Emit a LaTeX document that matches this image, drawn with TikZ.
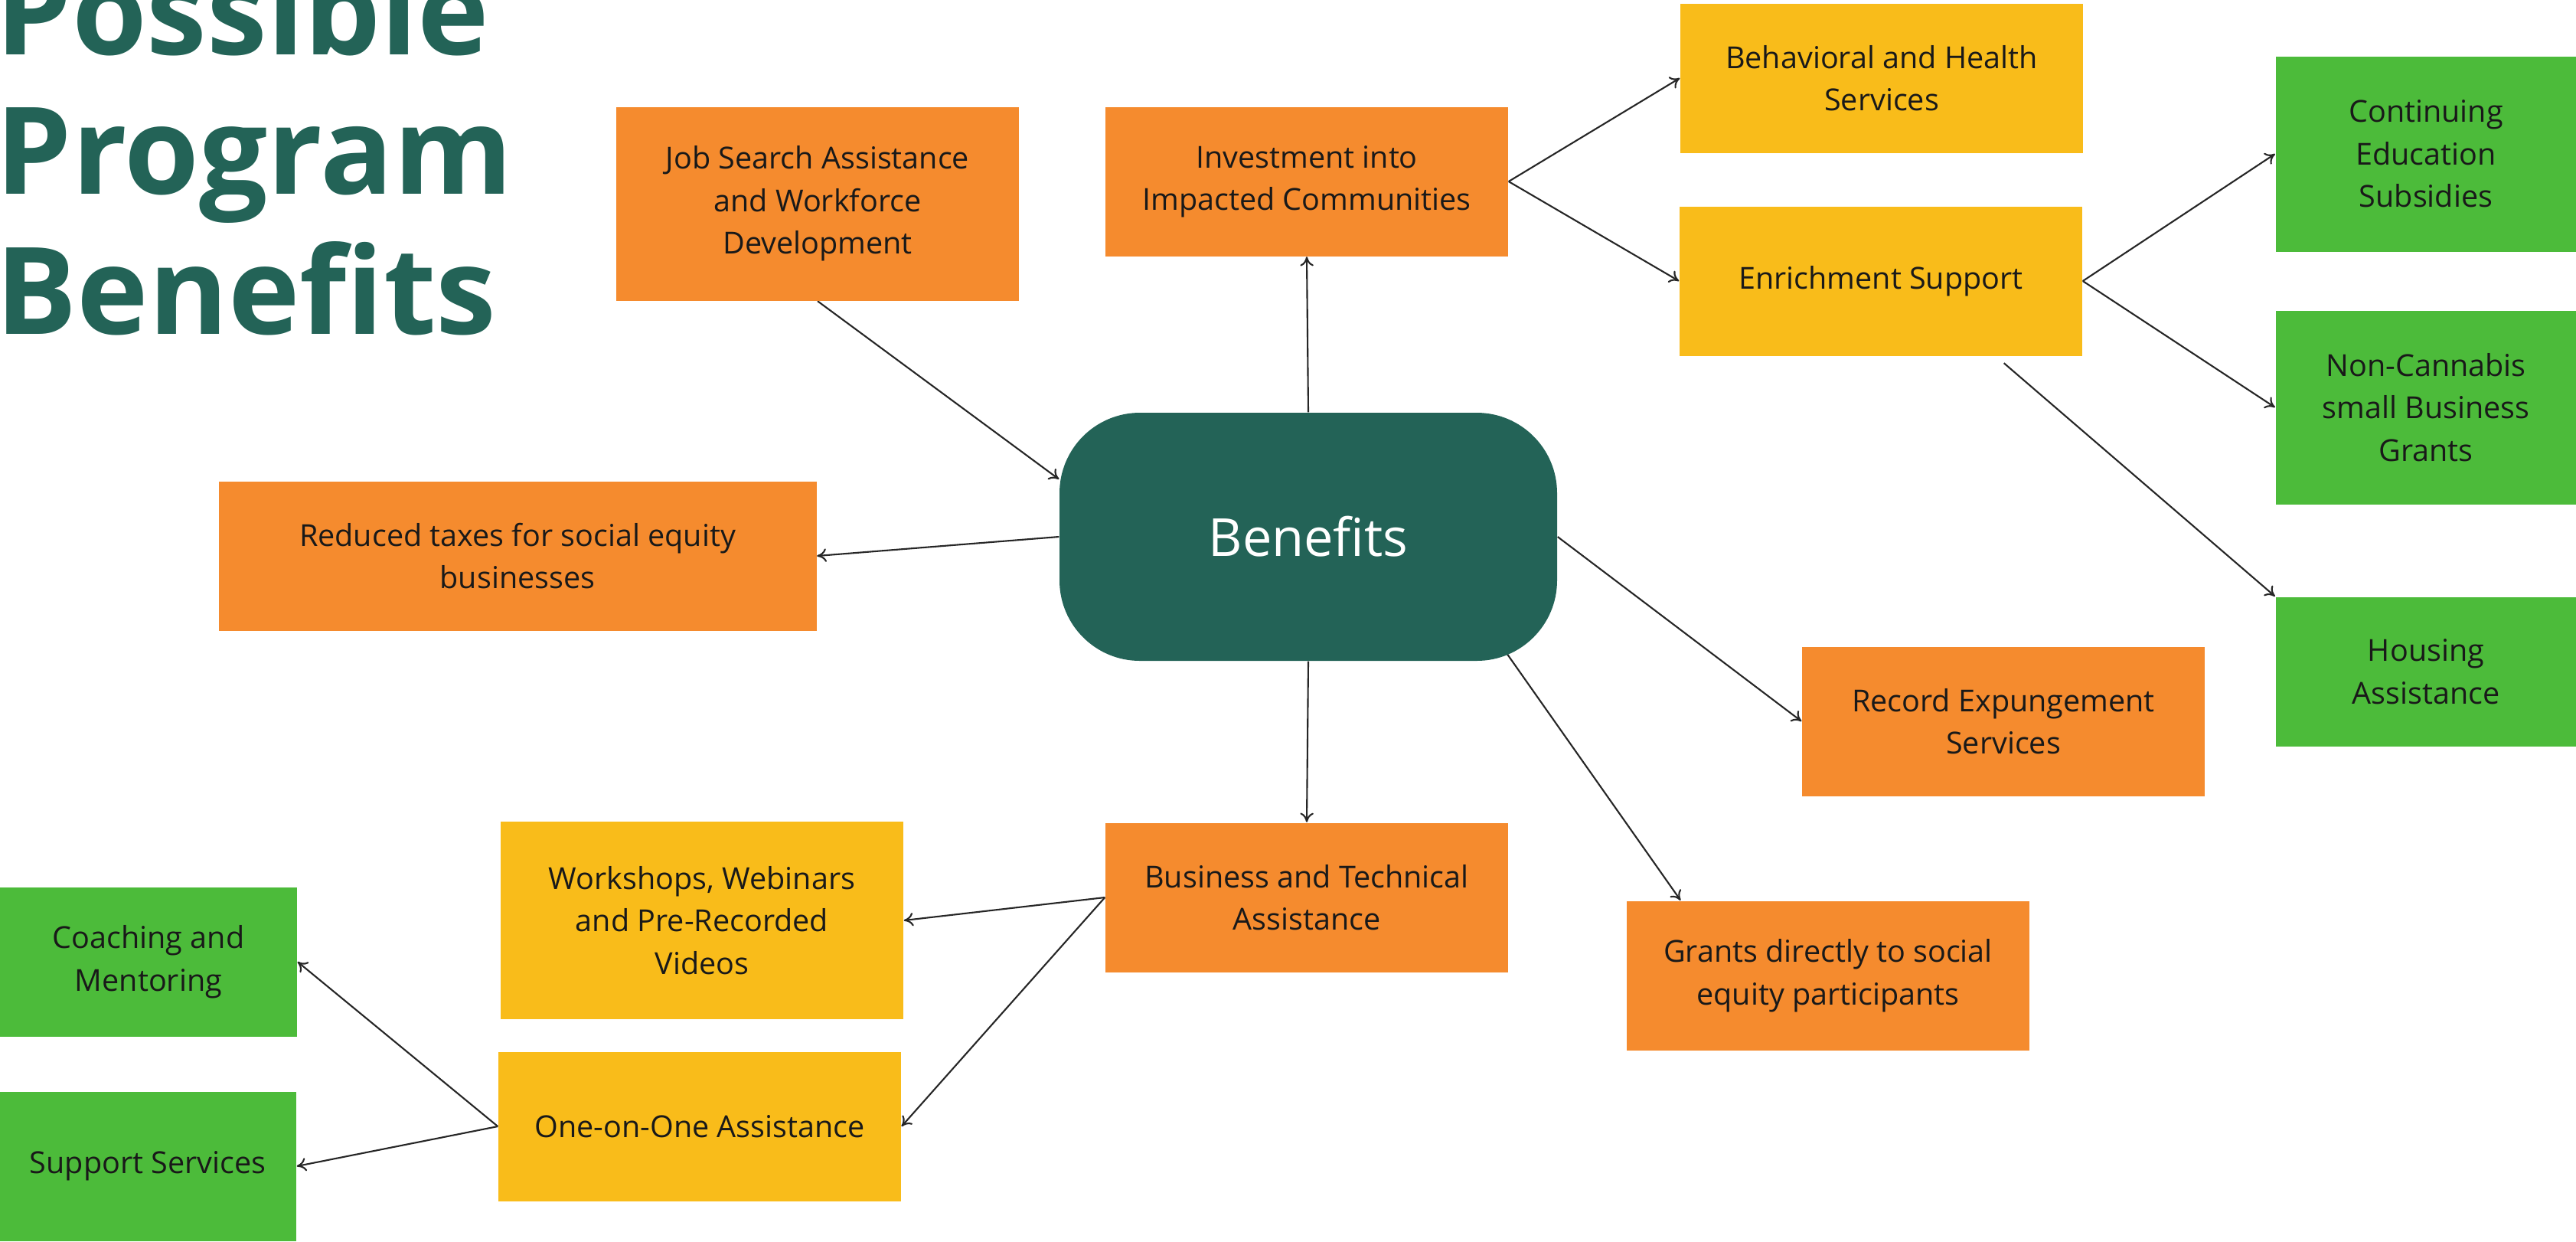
\documentclass[tikz,border=0pt]{standalone}
\usepackage{fontspec}
\setmainfont{Open Sans}
\usetikzlibrary{arrows.meta}
\usetikzlibrary{backgrounds}

\definecolor{teal}{RGB}{35,99,87}
\definecolor{orng}{RGB}{245,139,46}
\definecolor{yelo}{RGB}{249,188,26}
\definecolor{gren}{RGB}{76,187,58}

\begin{document}
\begin{tikzpicture}[>={To[length=3.5pt,width=5pt]},
    box/.style={rectangle, inner sep=0pt, minimum width=5.26cm, minimum height=1.95cm, align=center, text=black!90, font=\fontsize{11.25}{15.8}\selectfont},
    orbox/.style={box, fill=orng},
    yebox/.style={box, fill=yelo},
    grbox/.style={box, fill=gren, minimum width=3.93cm},
    core/.style={rectangle, rounded corners=1.05cm, fill=teal, text=white, minimum width=6.5cm, minimum height=3.24cm, font=\fontsize{19.5}{24}\selectfont},
    ttl/.style={anchor=base west, inner sep=0pt, text=teal, font=\fontsize{45}{52}\selectfont\bfseries},
    link/.style={->, line width=0.6pt, draw=black!85}]
    \useasboundingbox (0,0) rectangle (33.65,-16.21);
    \clip (0,0) rectangle (33.65,-16.21);
    % title
    \node[ttl] (ttl1) at (-0.06,-0.71) {Possible};
    \node[ttl] (ttl2) at (-0.06,-2.53) {Program};
    \node[ttl] (ttl3) at (-0.06,-4.36) {Benefits};
    % centre and first ring
    \node[core] (ben) at (17.09,-7.01) {Benefits};
    \node[orbox, minimum height=2.53cm] (job) at (10.68,-2.66) {Job Search Assistance\\and Workforce\\Development};
    \node[orbox] (invest) at (17.07,-2.37) {Investment into\\Impacted Communities};
    \node[orbox, minimum width=7.81cm] (taxes) at (6.76,-7.26) {Reduced taxes for social equity\\businesses};
    \node[orbox] (record) at (26.17,-9.42) {Record Expungement\\Services};
    \node[orbox] (business) at (17.07,-11.72) {Business and Technical\\Assistance};
    \node[orbox] (grants) at (23.88,-12.74) {Grants directly to social\\equity participants};
    % second ring
    \node[yebox] (behav) at (24.58,-1.02) {Behavioral and Health\\Services};
    \node[yebox] (enrich) at (24.57,-3.67) {Enrichment Support};
    \node[yebox, minimum height=2.58cm] (workshop) at (9.17,-12.02) {Workshops, Webinars\\and Pre-Recorded\\Videos};
    \node[yebox] (onetoone) at (9.14,-14.71) {One-on-One Assistance};
    % third ring
    \node[grbox, minimum height=2.55cm] (contin) at (31.69,-2.01) {Continuing\\Education\\Subsidies};
    \node[grbox, minimum height=2.53cm] (noncan) at (31.69,-5.32) {Non-Cannabis\\small Business\\Grants};
    \node[grbox] (housing) at (31.69,-8.77) {Housing\\Assistance};
    \node[grbox, minimum width=3.88cm] (coach) at (1.94,-12.56) {Coaching and\\Mentoring};
    \node[grbox, minimum width=3.88cm] (support) at (1.93,-15.23) {Support Services};
    \begin{scope}[on background layer]
    \draw[link] (job.south) -- (ben.167);
    \draw[link] (ben.west) -- (taxes.east);
    \draw[link] (ben.north) -- (invest.south);
    \draw[link] (invest.east) -- (behav.west); \draw[link] (invest.east) -- (enrich.west);
    \draw[link] (enrich.east) -- (contin.west); \draw[link] (enrich.east) -- (noncan.west);
    \draw[link] ([xshift=-1.03cm,yshift=-0.09cm]enrich.south east) -- (housing.north west);
    \draw[link] (ben.east) -- (record.west);
    \draw[link] ([xshift=1.52cm]ben.center) -- ([xshift=0.71cm]grants.north west);
    \draw[link] (ben.south) -- (business.north);
    \draw[link] (business.west) -- (workshop.east); \draw[link] (business.west) -- (onetoone.east);
    \draw[link] (onetoone.west) -- (coach.east); \draw[link] (onetoone.west) -- (support.east);
    \end{scope}
\end{tikzpicture}
\end{document}
